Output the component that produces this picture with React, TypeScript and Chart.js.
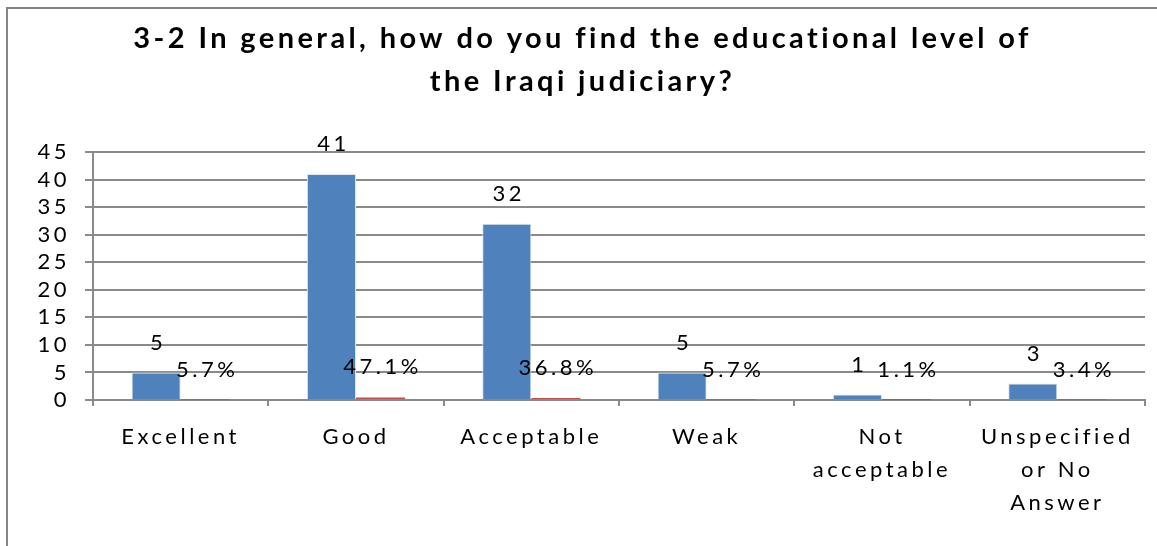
import React, { useEffect, useRef } from "react";
import { Chart, registerables } from "chart.js";

Chart.register(...registerables);

const titleLines = [
  "3-2 In general, how do you find the educational level of",
  "the Iraqi judiciary?",
];
const categories = [
  ["Excellent"],
  ["Good"],
  ["Acceptable"],
  ["Weak"],
  ["Not", "acceptable"],
  ["Unspecified", "or No", "Answer"],
];
const counts = [5, 41, 32, 5, 1, 3];
const percents = [5.7, 47.1, 36.8, 5.7, 1.1, 3.4];
const yMax = 45;
const yStep = 5;

const FONT = "Lato, 'Open Sans', sans-serif";
const SPACING = "3.5px";

export default function App() {
  const ref = useRef<HTMLCanvasElement | null>(null);

  useEffect(() => {
    const canvas = ref.current;
    if (!canvas) return;

    const spacingPlugin = {
      id: "spacingAndLabels",
      beforeUpdate(chart: any) {
        chart.ctx.letterSpacing = SPACING;
      },
      beforeDraw(chart: any) {
        chart.ctx.letterSpacing = SPACING;
      },
      afterDraw(chart: any) {
        const ctx = chart.ctx;
        ctx.save();
        // title
        ctx.letterSpacing = "3.4px";
        ctx.font = `bold 29px ${FONT}`;
        ctx.fillStyle = "#000";
        ctx.textAlign = "center";
        ctx.textBaseline = "alphabetic";
        titleLines.forEach((line, i) => {
          ctx.fillText(line, chart.width / 2 + 4, 48 + i * 43);
        });
        // data labels
        ctx.letterSpacing = SPACING;
        ctx.font = `22px ${FONT}`;
        ctx.textBaseline = "middle";
        chart.data.datasets.forEach((ds: any, di: number) => {
          const meta = chart.getDatasetMeta(di);
          meta.data.forEach((el: any, i: number) => {
            const txt = di === 0 ? String(counts[i]) : percents[i].toFixed(1) + "%";
            ctx.fillText(txt, el.x + 2, el.y - 30);
          });
        });
        ctx.restore();
      },
    };

    const chart = new Chart(canvas, {
      type: "bar",
      data: {
        labels: categories,
        datasets: [
          {
            label: "Count",
            data: counts,
            backgroundColor: "#4F81BD",
            borderColor: "#dce6f2",
            borderWidth: { top: 1, left: 1, right: 1, bottom: 0 },
            categoryPercentage: 0.56,
            barPercentage: 1,
          },
          {
            label: "Percent",
            data: percents.map((p) => p / 100),
            backgroundColor: "#C0504D",
            categoryPercentage: 0.56,
            barPercentage: 1,
          },
        ],
      },
      options: {
        animation: false,
        responsive: false,
        layout: { padding: { top: 152, right: 12, left: 0, bottom: 0 } },
        plugins: {
          legend: { display: false },
          title: { display: false },
          tooltip: { enabled: false },
        },
        scales: {
          x: {
            afterFit(scale: any) {
              scale.height = 146;
            },
            grid: {
              display: true,
              drawOnChartArea: false,
              drawTicks: true,
              tickLength: 6,
              color: "#8a8a8a",
              lineWidth: 2,
              offset: true,
            },
            border: { display: true, color: "#8a8a8a", width: 2 },
            ticks: {
              color: "#000",
              font: { family: FONT, size: 22, lineHeight: 1.5 },
              padding: 14,
              maxRotation: 0,
              autoSkip: false,
            },
          },
          y: {
            min: 0,
            max: yMax,
            afterFit(scale: any) {
              scale.width = 93;
            },
            grid: {
              color: "#8a8a8a",
              lineWidth: 2,
              tickLength: 8,
              drawTicks: true,
            },
            border: { display: true, color: "#8a8a8a", width: 2 },
            ticks: {
              stepSize: yStep,
              autoSkip: false,
              color: "#000",
              font: { family: FONT, size: 22 },
              padding: 15,
            },
          },
        },
      },
      plugins: [spacingPlugin],
    });

    return () => chart.destroy();
  }, []);

  return (
    <div
      style={{
        position: "absolute",
        left: 0,
        top: 0,
        width: 1157,
        height: 546,
        background: "#fff",
        overflow: "hidden",
      }}
    >
      <div
        style={{
          position: "absolute",
          left: 6,
          top: 7,
          width: 1151,
          height: 539,
          boxSizing: "border-box",
          borderTop: "2px solid #858585",
          borderLeft: "2px solid #858585",
        }}
      />
      <canvas
        ref={ref}
        width={1157}
        height={546}
        style={{ position: "absolute", left: 0, top: 0, width: 1157, height: 546 }}
      />
    </div>
  );
}
